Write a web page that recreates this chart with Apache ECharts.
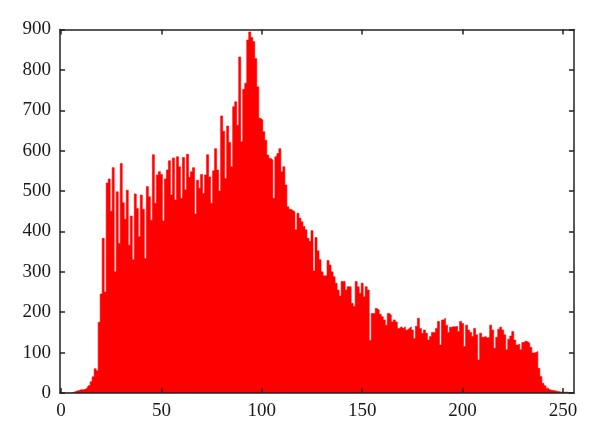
<!DOCTYPE html>
<html><head><meta charset="utf-8">
<script src="https://cdn.jsdelivr.net/npm/echarts@6/dist/echarts.min.js"></script>
<style>html,body{margin:0;padding:0;background:#fff}#c{width:600px;height:438px}</style>
</head><body><div id="c"></div>
<script>
// Histogram counts for intensity bins 0..255
const binCounts = [
  0,0,0,0,0,0,1,3,5,6,
  8,8,9,12,18,28,40,60,55,175,
  245,383,250,520,530,450,558,300,498,370,
  568,471,430,502,366,438,330,493,457,387,
  490,455,333,511,486,428,590,470,540,548,
  541,426,530,552,575,490,582,478,585,560,
  482,583,503,591,534,548,558,443,527,507,
  541,494,540,590,535,470,550,605,552,500,
  686,648,531,661,620,560,709,721,663,832,
  622,752,767,874,894,880,870,828,758,680,
  676,647,626,589,581,577,482,585,593,605,
  548,560,515,461,455,452,449,404,445,433,
  424,412,404,383,375,402,302,385,352,330,
  300,290,290,328,317,300,288,272,255,240,
  276,276,255,263,263,222,214,276,263,247,
  272,238,263,255,130,197,197,209,205,195,
  189,181,168,197,193,176,181,176,160,164,
  160,164,156,160,164,156,135,165,185,160,
  148,156,148,131,140,150,150,160,177,119,
  181,185,168,150,163,164,164,165,152,177,
  172,115,168,156,150,140,160,144,82,148,
  138,140,136,138,168,156,111,138,158,163,
  156,144,107,133,141,152,131,119,121,107,
  125,129,127,123,113,99,100,103,61,41,
  24,18,12,8,7,6,5,4,3,2,
  2,2,2,1,0,0
];
const binLabels = binCounts.map((_, i) => String(i));
const xTickLabels = ['0', '50', '100', '150', '200', '250'];
const yMin = 0, yMax = 900, yStep = 100;

const font = 'Liberation Serif';
const frameColor = '#222';
const showTick = (idx) => xTickLabels.includes(String(idx));

const chart = echarts.init(document.getElementById('c'), null, {renderer: 'canvas'});
const xBase = {
  type: 'category',
  data: binLabels,
  boundaryGap: true,
  z: 10,
  axisLine: {show: true, onZero: false, lineStyle: {color: frameColor, width: 1.5}},
  axisTick: {show: true, inside: true, length: 5, alignWithLabel: true, interval: showTick,
             lineStyle: {color: frameColor, width: 1.5}},
  splitLine: {show: false}
};
const yBase = {
  type: 'value', min: yMin, max: yMax, interval: yStep,
  z: 10,
  axisLine: {show: true, onZero: false, lineStyle: {color: frameColor, width: 1.5}},
  axisTick: {show: true, inside: true, length: 5, lineStyle: {color: frameColor, width: 1.5}},
  splitLine: {show: false}
};
chart.setOption({
  animation: false,
  backgroundColor: '#fff',
  grid: {left: 60, right: 26, top: 29.5, bottom: 45, containLabel: false},
  xAxis: [
    Object.assign({}, xBase, {position: 'bottom',
      axisLabel: {show: true, interval: showTick, margin: 9, color: '#1a1a1a',
                  fontFamily: font, fontSize: 19}}),
    Object.assign({}, xBase, {position: 'top', axisLabel: {show: false}})
  ],
  yAxis: [
    Object.assign({}, yBase, {position: 'left',
      axisLabel: {show: true, margin: 9, color: '#1a1a1a', fontFamily: font, fontSize: 19}}),
    Object.assign({}, yBase, {position: 'right', axisLabel: {show: false}})
  ],
  series: [{
    type: 'line',
    step: 'middle',
    xAxisIndex: 0, yAxisIndex: 0,
    data: binCounts,
    showSymbol: false,
    symbol: 'none',
    lineStyle: {color: '#ff0000', width: 0.6},
    areaStyle: {color: '#ff0000', opacity: 1},
    emphasis: {disabled: true}
  }]
});
</script>
</body></html>
